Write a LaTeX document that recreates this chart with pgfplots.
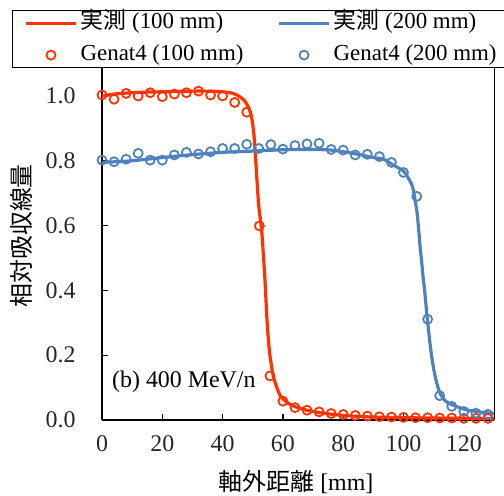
\documentclass[border=0pt]{standalone}
\usepackage{fontspec}
\setmainfont{Liberation Serif}
\newfontfamily\cjk{Noto Sans CJK JP}
\usepackage{pgfplots}
\pgfplotsset{compat=1.18}
\definecolor{redline}{HTML}{FF3300}
\definecolor{blueline}{HTML}{4F81BD}

\begin{document}
\begin{tikzpicture}
\begin{axis}[
  scale only axis, width=392bp, height=352bp,
  xmin=0, xmax=130, ymin=0, ymax=1.0864,
  clip=false,
  axis lines=left, axis line style={-, line width=1.6bp},
  tick align=inside, major tick length=6bp, tick style={line width=1.2bp, black},
  xtick={0,20,40,60,80,100,120}, ytick={0,0.2,0.4,0.6,0.8,1.0},
  yticklabel style={/pgf/number format/fixed, /pgf/number format/zerofill, /pgf/number format/precision=1, xshift=-23bp, text=black!85},
  xticklabel style={yshift=-12bp, text=black!85},
  /pgf/number format/assume math mode=true,
  font=\fontsize{24}{28}\selectfont,
  xlabel={{\cjk 軸外距離} [mm]},
  ylabel={\cjk 相対吸収線量},
  xlabel style={at={(rel axis cs:0.495,-0.176)}, anchor=center},
  ylabel style={at={(rel axis cs:-0.206,0.523)}, anchor=center},
  legend columns=2,
  legend image code/.code={\draw[mark repeat=2, mark phase=2, #1] plot coordinates {(0bp,0bp) (25bp,0bp) (50bp,0bp)};},
  legend style={at={(-0.2296,1)}, anchor=south west, draw=black, line width=0.8bp,
    inner xsep=12bp, inner ysep=0bp, row sep=7bp,
    nodes={inner sep=1bp, anchor=west, text height=17bp, text depth=6bp},
    /tikz/every odd column/.append style={column sep=2bp},
    /tikz/every even column/.append style={column sep=33bp},
    font=\fontsize{23}{27}\selectfont},
]
% measured 100 mm
\addplot[redline, line width=3.2bp, smooth, tension=0.4] coordinates {
 (0,1.000) (2,1.003) (5,1.007) (10,1.010) (15,1.012) (20,1.013) (25,1.014) (30,1.015)
 (35,1.015) (40,1.013) (43,1.009) (45,1.002) (47,0.988) (48.5,0.967) (49.6,0.936)
 (50.4,0.88) (51,0.80) (51.4,0.74) (52,0.66) (53,0.58) (54,0.44) (54.6,0.33)
 (55,0.27) (55.5,0.215) (56,0.18) (56.5,0.15) (57,0.128) (58,0.10) (59,0.077)
 (60,0.065) (61,0.057) (62,0.050) (64,0.041) (66,0.035) (68,0.030) (70,0.026)
 (72,0.023) (75,0.019) (80,0.014) (85,0.011) (90,0.009) (95,0.008) (100,0.007)
 (110,0.006) (120,0.005) (130,0.005)};
\addlegendentry{{\cjk 実測} (100 mm)}
% measured 200 mm
\addplot[blueline, line width=3.2bp, smooth, tension=0.4] coordinates {
 (0,0.795) (10,0.800) (20,0.810) (30,0.819) (40,0.826) (50,0.830) (60,0.834)
 (70,0.835) (76,0.833) (80,0.828) (85,0.820) (90,0.810) (93.3,0.805) (97,0.785)
 (100,0.768) (101.5,0.748) (103,0.72) (104,0.67) (104.5,0.64) (105,0.59)
 (105.5,0.535) (106,0.49) (106.5,0.44) (107,0.40) (107.7,0.33) (108.5,0.26)
 (109.2,0.205) (110,0.158) (111,0.115) (112,0.085) (113,0.068) (114,0.058)
 (115.4,0.050) (118,0.040) (121,0.031) (125,0.025) (130,0.020)};
\addlegendentry{{\cjk 実測} (200 mm)}
% Geant4 100 mm
\addplot[only marks, mark=o, mark size=4.5bp, redline, line width=1.8bp] coordinates {
 (0,1.003) (4,0.990) (8,1.008) (12,1.000) (16,1.010) (20,0.998) (24,1.006) (28,1.010)
 (32,1.015) (36,1.003) (40,1.000) (44,0.980) (48,0.950) (52.2,0.599) (55.7,0.136)
 (60,0.058) (64,0.038) (68,0.030) (72,0.025) (76,0.020) (80,0.017) (84,0.014)
 (88,0.012) (92,0.010) (96,0.009) (100,0.008) (104,0.007) (108,0.007) (112,0.006)
 (116,0.006) (120,0.005) (124,0.005) (128,0.005)};
\addlegendentry{Genat4 (100 mm)}
% Geant4 200 mm
\addplot[only marks, mark=o, mark size=4.5bp, blueline, line width=1.8bp] coordinates {
 (0,0.802) (4,0.797) (8,0.805) (12,0.823) (16,0.802) (20,0.802) (24,0.818) (28,0.826)
 (32,0.821) (36,0.828) (40,0.838) (44,0.838) (48,0.851) (52,0.838) (56,0.850)
 (60,0.836) (64,0.847) (68,0.852) (72,0.854) (76,0.835) (80,0.833) (84,0.818)
 (88,0.820) (92,0.813) (96,0.795) (100,0.764) (104.4,0.690) (108,0.311) (112,0.075)
 (116,0.042) (120,0.026) (124,0.021) (128,0.017)};
\addlegendentry{Genat4 (200 mm)}
\draw[line width=0.8bp] (rel axis cs:1,0) -- (rel axis cs:1,1);
\node[anchor=west, inner sep=0pt] at (rel axis cs:0.0255,0.108) {(b) 400 MeV/n};
\coordinate (BB1) at (axis cs:-33.83,-0.2346);
\coordinate (BB2) at (axis cs:133.33,1.2963);
\end{axis}
\pgfresetboundingbox
\path[use as bounding box] (BB1) rectangle (BB2);
\end{tikzpicture}
\end{document}
